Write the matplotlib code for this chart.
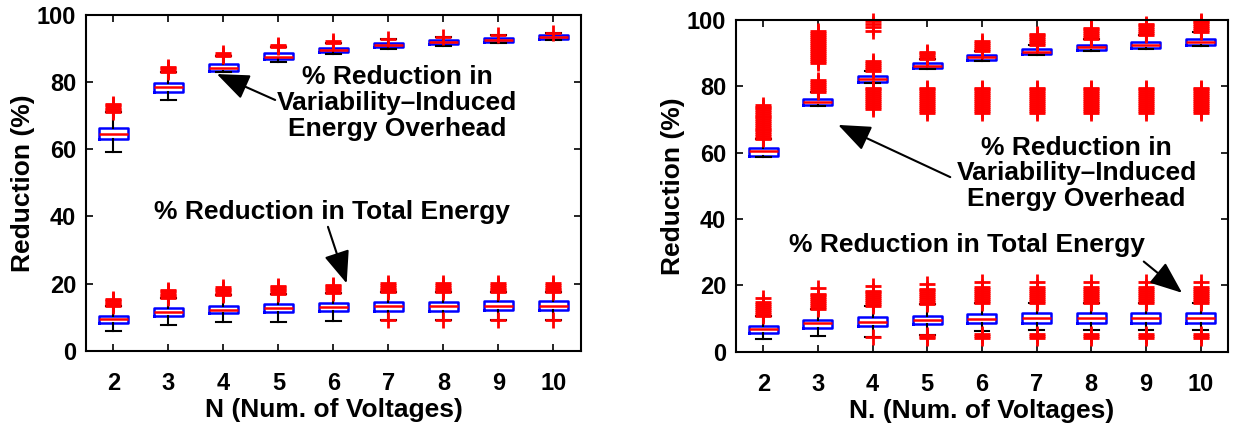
import numpy as np
import matplotlib
matplotlib.use("Agg")
import matplotlib.pyplot as plt

plt.rcParams['font.family'] = ['Liberation Sans', 'DejaVu Sans']
plt.rcParams['font.weight'] = 'bold'

N = [2, 3, 4, 5, 6, 7, 8, 9, 10]

# ---- left panel: overhead reduction (upper group)
L_up_q1 = [63.0, 77.1, 83.3, 86.7, 88.8, 90.4, 91.1, 91.9, 92.7]
L_up_med = [64.5, 78.4, 84.2, 87.5, 89.5, 91.0, 91.7, 92.5, 93.2]
L_up_q3 = [66.4, 79.6, 85.3, 88.5, 90.1, 91.6, 92.3, 93.0, 93.8]
L_up_lo = [59.2, 74.6, 82.8, 85.8, 88.2, 89.8, 90.6, 91.5, 92.3]
L_up_fl = [[71.0, 71.5, 72.0, 72.5, 73.0, 73.3],
           [83.0, 83.5, 84.0, 84.4],
           [87.7, 88.1, 88.5],
           [90.2, 90.5, 90.8],
           [91.6, 92.0],
           [92.6], [93.4], [94.0], [94.4]]

# ---- left panel: total energy reduction (lower group)
L_lo_q1 = [8.4, 10.4, 11.2, 11.5, 11.9, 12.0, 12.0, 12.1, 12.1]
L_lo_med = [9.5, 11.6, 12.3, 12.8, 13.1, 13.4, 13.4, 13.5, 13.5]
L_lo_q3 = [10.5, 12.7, 13.4, 14.0, 14.4, 14.7, 14.7, 14.8, 14.8]
L_lo_lo = [6.0, 7.6, 8.5, 8.7, 8.9, 9.2, 9.2, 9.2, 9.2]
L_lo_fl = [[13.4, 13.9, 14.4, 14.9, 15.3, 15.6],
           [15.7, 16.2, 16.7, 17.2, 17.7, 18.1],
           [16.5, 17.0, 17.5, 18.0, 18.5, 18.9],
           [17.0, 17.5, 18.0, 18.5, 19.0, 19.3],
           [17.3, 17.8, 18.3, 18.8, 19.3, 19.7],
           [9.2, 17.5, 18.0, 18.5, 19.0, 19.5, 20.1],
           [9.2, 17.5, 18.0, 18.5, 19.0, 19.5, 20.1],
           [9.2, 17.5, 18.0, 18.5, 19.0, 19.5, 20.1],
           [9.2, 17.5, 18.0, 18.5, 19.0, 19.5, 20.1]]

# ---- right panel: overhead reduction (upper group)
R_up_q1 = [58.9, 74.3, 81.1, 85.3, 87.8, 89.5, 90.8, 91.5, 92.3]
R_up_med = [60.5, 75.3, 82.1, 86.1, 88.6, 90.2, 91.6, 92.4, 93.3]
R_up_q3 = [61.3, 76.2, 83.0, 87.0, 89.3, 91.0, 92.3, 93.3, 94.1]
R_up_lo = [58.6, 74.0, 80.8, 85.0, 87.5, 89.2, 90.5, 91.2, 92.0]
low_clu = [71.8, 72.4, 73.0, 73.6, 74.2, 74.8, 75.4, 76.0, 76.6, 77.2, 77.8, 78.4, 79.0, 79.5]
R_up_fl = [[64.0, 64.5, 65.0, 65.6, 66.1, 66.7, 67.2, 67.8, 68.3, 68.9, 69.4, 70.0,
            70.6, 71.1, 71.7, 72.2, 72.8, 73.3, 73.8, 74.2],
           [78.2, 78.8, 79.4, 80.0, 80.6, 81.2, 81.7,
            86.9, 87.5, 88.1, 88.7, 89.3, 89.9, 90.5, 91.1, 91.7, 92.3, 92.9,
            93.5, 94.1, 94.7, 95.3, 95.9, 96.4],
           [73.2, 73.8, 74.4, 75.0, 75.6, 76.2, 76.8, 77.4, 78.0, 78.6, 79.2, 79.5,
            84.5, 85.1, 85.7, 86.3, 86.9, 87.4, 96.6, 97.6, 98.6, 99.6],
           low_clu + [88.2, 88.8, 89.4, 90.0, 90.3],
           low_clu + [90.5, 91.1, 91.7, 92.3, 92.9, 93.4],
           low_clu + [92.3, 92.9, 93.5, 94.1, 94.7, 95.3, 95.6],
           low_clu + [94.0, 94.6, 95.2, 95.8, 96.4, 97.0, 97.4],
           low_clu + [95.3, 95.9, 96.5, 97.1, 97.7, 98.3, 98.6],
           low_clu + [96.3, 96.9, 97.5, 98.1, 98.7, 99.3, 99.6]]

# ---- right panel: total energy reduction (lower group)
R_lo_q1 = [5.8, 7.3, 7.9, 8.4, 8.6, 8.8, 8.8, 8.8, 8.8]
R_lo_med = [6.9, 8.6, 9.1, 9.6, 10.0, 10.3, 10.3, 10.3, 10.3]
R_lo_q3 = [7.8, 9.6, 10.4, 10.9, 11.3, 11.6, 11.6, 11.6, 11.6]
R_lo_lo = [3.9, 4.9, 4.4, 5.1, 6.4, 6.6, 6.6, 6.6, 6.6]
top_clu = [4.1, 4.7, 5.3, 14.8, 15.4, 16.0, 16.6, 17.2, 17.8, 18.4, 19.0, 19.6, 21.0]
R_lo_fl = [[10.8, 11.4, 12.0, 12.6, 13.2, 13.8, 14.4, 14.9, 16.1],
           [12.8, 13.4, 14.0, 14.6, 15.2, 15.8, 16.4, 17.0, 17.4, 19.2],
           [4.4, 13.8, 14.4, 15.0, 15.6, 16.2, 16.8, 17.4, 18.0, 18.4, 19.9],
           [4.1, 4.6, 5.1, 14.4, 15.0, 15.6, 16.2, 16.8, 17.4, 18.0, 18.6, 19.0, 20.5],
           top_clu, top_clu, top_clu, top_clu, top_clu]


def make_stats(q1, med, q3, lo, fl):
    stats = []
    for i in range(len(med)):
        f = fl[i]
        above = [v for v in f if v > q3[i]]
        hi = min(above) if above else q3[i]
        stats.append({'q1': q1[i], 'med': med[i], 'q3': q3[i],
                      'whislo': lo[i], 'whishi': hi, 'fliers': f})
    return stats


def draw(ax, groups):
    for g in groups:
        ax.bxp(make_stats(*g), positions=N, widths=0.53, manage_ticks=False,
               boxprops=dict(color='#0000ff', lw=1.8),
               medianprops=dict(color='#ff0000', lw=1.8),
               whiskerprops=dict(color='black', lw=1.5),
               capprops=dict(color='black', lw=1.5),
               flierprops=dict(marker='+', markeredgecolor='#ff0000', markersize=12,
                               markeredgewidth=2, linestyle='none', clip_on=False))
    ax.set_xlim(1.5, 10.5)
    ax.set_ylim(0, 100)
    ax.set_xticks(N)
    ax.set_xticklabels([str(n) for n in N])
    ax.set_yticks([0, 20, 40, 60, 80, 100])
    ax.tick_params(direction='in', top=True, right=True, length=5, width=1.2,
                   labelsize=17)
    ax.tick_params(axis='x', pad=15)
    ax.tick_params(axis='y', pad=7)
    for s in ax.spines.values():
        s.set_linewidth(1.5)
    ax.set_ylabel('Reduction (%)', fontsize=19, fontweight='bold', labelpad=1)


fig = plt.figure(figsize=(12.33, 4.29), dpi=100)
ax1 = fig.add_axes([0.0697, 0.1818, 0.4015, 0.7844])
ax2 = fig.add_axes([0.5969, 0.1795, 0.399, 0.775])

draw(ax1, [(L_up_q1, L_up_med, L_up_q3, L_up_lo, L_up_fl),
           (L_lo_q1, L_lo_med, L_lo_q3, L_lo_lo, L_lo_fl)])
draw(ax2, [(R_up_q1, R_up_med, R_up_q3, R_up_lo, R_up_fl),
           (R_lo_q1, R_lo_med, R_lo_q3, R_lo_lo, R_lo_fl)])

ax1.set_xlabel('N (Num. of Voltages)', fontsize=19, fontweight='bold', labelpad=2)
ax2.set_xlabel('N. (Num. of Voltages)', fontsize=19, fontweight='bold', labelpad=2)

arrow = dict(arrowstyle='-|>,head_length=0.5,head_width=0.2', color='black',
             lw=1.5, mutation_scale=40, shrinkA=0, shrinkB=0)
txt_overhead = '% Reduction in\nVariability\u2013Induced\nEnergy Overhead'
txt_total = '% Reduction in Total Energy'

ax1.text(7.16, 73.6, txt_overhead, ha='center', va='center', fontsize=19,
         fontweight='bold', linespacing=1.1)
ax1.annotate('', xy=(3.88, 82.3), xytext=(4.94, 74.6), arrowprops=arrow)
ax1.text(5.97, 41.4, txt_total, ha='center', va='center', fontsize=19,
         fontweight='bold')
ax1.annotate('', xy=(6.24, 20.1), xytext=(5.9, 36.9), arrowprops=arrow)

ax2.text(7.73, 53.7, txt_overhead, ha='center', va='center', fontsize=19,
         fontweight='bold', linespacing=1.1)
ax2.annotate('', xy=(3.37, 68.3), xytext=(5.42, 52.6), arrowprops=arrow)
ax2.text(5.73, 32.2, txt_total, ha='center', va='center', fontsize=19,
         fontweight='bold')
ax2.annotate('', xy=(9.66, 17.8), xytext=(8.96, 27.2), arrowprops=arrow)

fig.savefig('out.png', dpi=100)
